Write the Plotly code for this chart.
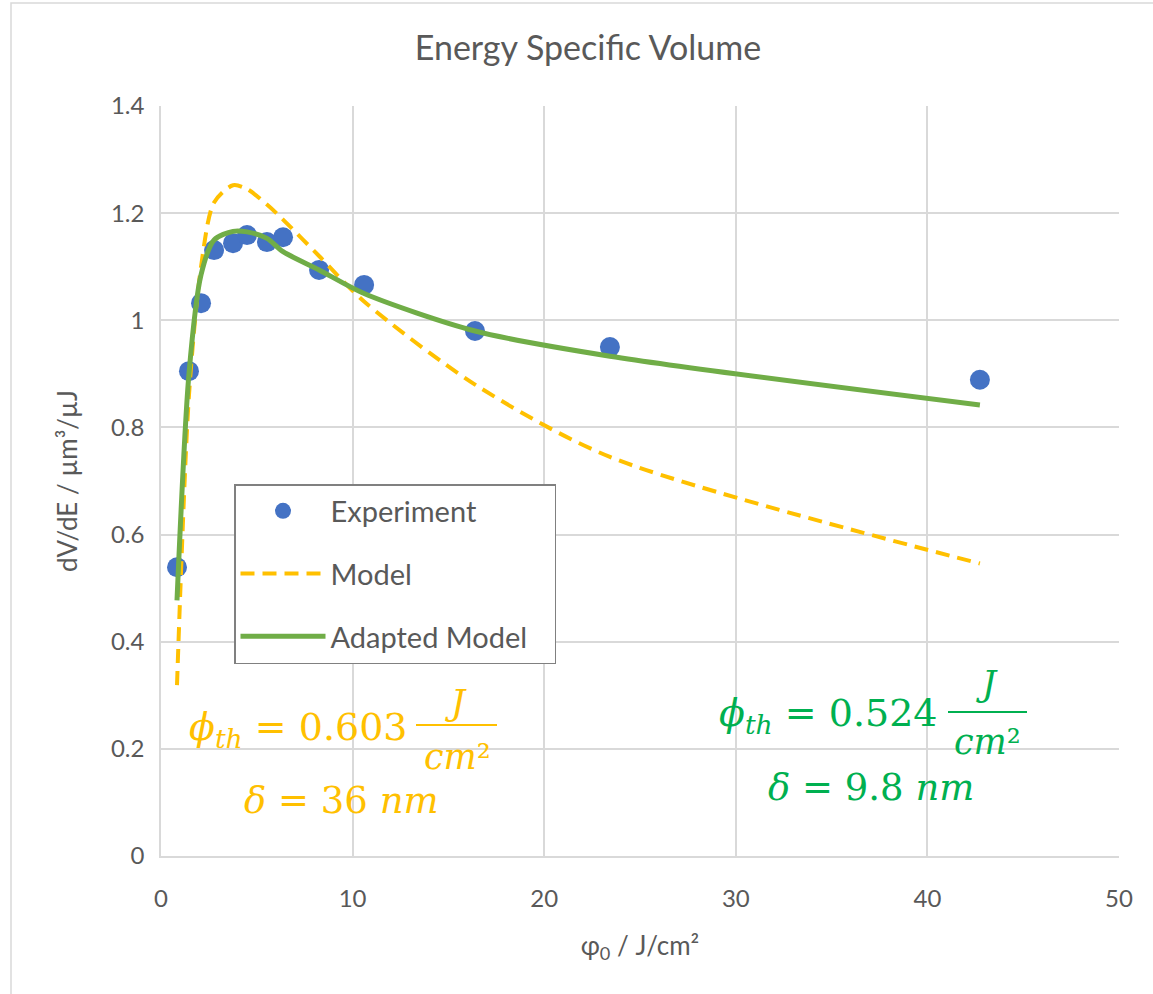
import plotly.graph_objects as go

# Data
exp_x = [0.835, 1.46, 2.09, 2.77, 3.76, 4.49, 5.53, 6.37, 8.25, 10.6, 16.39, 23.43, 42.74]
exp_y = [0.539, 0.905, 1.032, 1.131, 1.144, 1.159, 1.146, 1.155, 1.094, 1.066, 0.980, 0.950, 0.889]

model_y = [0.319, 0.86, 1.10, 1.22, 1.252, 1.245, 1.216, 1.188, 1.12, 1.035, 0.88, 0.745, 0.546]
adapted_y = [0.477, 0.90, 1.085, 1.150, 1.166, 1.165, 1.153, 1.128, 1.094, 1.050, 0.980, 0.933, 0.842]

x_ticks = [0, 10, 20, 30, 40, 50]
y_ticks = [0, 0.2, 0.4, 0.6, 0.8, 1.0, 1.2, 1.4]
y_tick_labels = ["0", "0.2", "0.4", "0.6", "0.8", "1", "1.2", "1.4"]

GRID = "#d9d9d9"
TXT = "#595959"
YEL = "#FFC000"
GRN = "#00B050"
FONT = "Lato"
MATH = "DejaVu Serif"

fig = go.Figure()
fig.add_trace(go.Scatter(x=exp_x, y=exp_y, mode="markers", name="Experiment",
                         legendgroup="a",
                         marker=dict(color="#4472C4", size=20)))
fig.add_trace(go.Scatter(x=exp_x, y=model_y, mode="lines", name="Model",
                         legendgroup="b",
                         line=dict(color=YEL, width=4, dash="14px,8px", shape="spline", smoothing=0.8)))
fig.add_trace(go.Scatter(x=exp_x, y=adapted_y, mode="lines", name="Adapted Model\u00a0\u00a0\u00a0",
                         legendgroup="c",
                         line=dict(color="#70AD47", width=5, shape="spline", smoothing=0.8)))

# plot area: x px 161..1119, y px 106..856
def px_x(px):
    return (px - 161) / 958.0

def px_y(py):
    return (856 - py) / 750.0

ann = []
def add(text, x, y, color, size, xanchor="center"):
    ann.append(dict(text=text, x=px_x(x), y=px_y(y), xref="paper", yref="paper",
                    xanchor=xanchor, yanchor="middle", showarrow=False,
                    font=dict(family=MATH, size=size, color=color)))

# yellow annotation
add("<i>ϕ</i><sub><i>th</i></sub> = 0.603", 410, 729, YEL, 38, "right")
add("<i>J</i>", 456, 703, YEL, 35)
add("<i>cm</i>²", 457, 757, YEL, 35)
add("<i>δ</i> = 36 <i>nm</i>", 341, 800, YEL, 37)
# green annotation
add("<i>ϕ</i><sub><i>th</i></sub> = 0.524", 940, 715, GRN, 38, "right")
add("<i>J</i>", 987, 684, GRN, 35)
add("<i>cm</i>²", 987, 742, GRN, 35)
add("<i>δ</i> = 9.8 <i>nm</i>", 871, 787, GRN, 37)

shapes = [
    dict(type="line", xref="paper", yref="paper", x0=px_x(416), x1=px_x(497),
         y0=px_y(725), y1=px_y(725), line=dict(color=YEL, width=2)),
    dict(type="line", xref="paper", yref="paper", x0=px_x(948), x1=px_x(1027),
         y0=px_y(712), y1=px_y(712), line=dict(color=GRN, width=2)),
    dict(type="rect", xref="paper", yref="paper", x0=px_x(11), x1=px_x(1170),
         y0=px_y(1010), y1=px_y(3), line=dict(color=GRID, width=1.5), layer="below"),
]

fig.update_layout(
    width=1153, height=994,
    margin=dict(l=161, r=34, t=106, b=138),
    paper_bgcolor="white", plot_bgcolor="white",
    font=dict(family=FONT, color=TXT),
    title=dict(text="Energy Specific Volume", x=588 / 1153, xanchor="center",
               y=1 - 48 / 994, yanchor="middle",
               font=dict(family=FONT, size=34, color=TXT)),
    xaxis=dict(range=[0, 50], tickvals=x_ticks, showgrid=True, gridcolor=GRID, gridwidth=1.5,
               zeroline=False, showline=True, linecolor=GRID, linewidth=1.5,
               ticks="outside", ticklen=20, tickcolor="rgba(0,0,0,0)",
               tickfont=dict(family=FONT, size=24, color=TXT),
               title=dict(text="φ<sub>0</sub> / J/cm²", standoff=26,
                          font=dict(family=FONT, size=26, color=TXT))),
    yaxis=dict(range=[0, 1.4], tickvals=y_ticks, ticktext=y_tick_labels, showgrid=True,
               gridcolor=GRID, gridwidth=1.5, zeroline=False, showline=True,
               linecolor=GRID, linewidth=1.5,
               ticks="outside", ticklen=10, tickcolor="rgba(0,0,0,0)",
               tickfont=dict(family=FONT, size=24, color=TXT),
               title=dict(text="dV/dE / µm³/µJ", standoff=26,
                          font=dict(family=FONT, size=26, color=TXT))),
    legend=dict(x=px_x(234), y=px_y(484), xanchor="left", yanchor="top",
                bgcolor="white", bordercolor="#808080", borderwidth=1.5,
                font=dict(family=FONT, size=29, color=TXT),
                tracegroupgap=22, itemwidth=85),
    annotations=ann, shapes=shapes,
)

fig.write_html("out.html")
